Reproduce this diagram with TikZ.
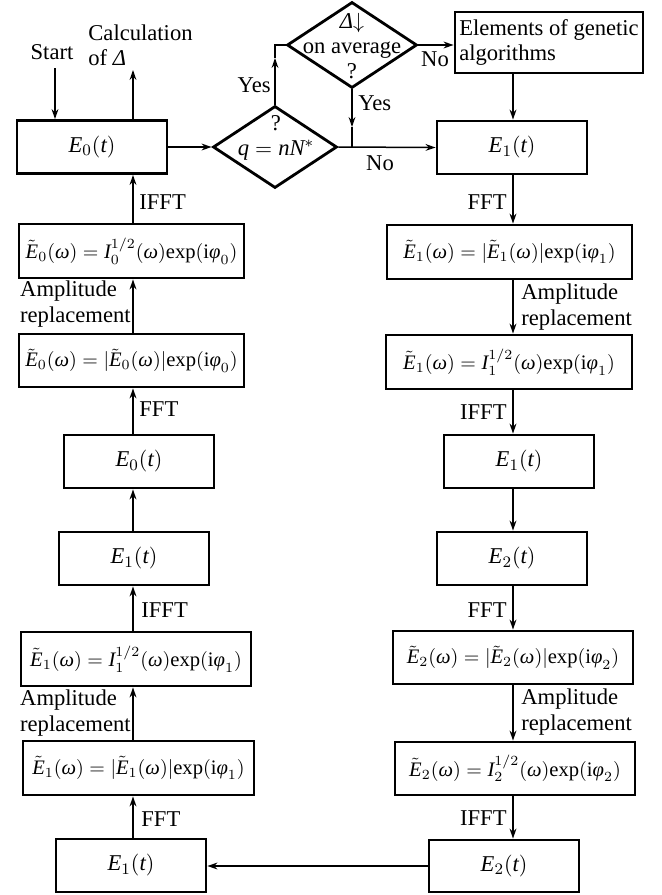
\documentclass[tikz,border=0pt]{standalone}
\usepackage{amsmath}
\usepackage{fontspec}
\setmainfont{Liberation Serif}
\usetikzlibrary{shapes.geometric,arrows.meta}
\newcommand{\fsz}{\fontsize{11.3pt}{12.7pt}\selectfont}
\newcommand{\msz}{\fontsize{10.3pt}{12.5pt}\selectfont}
\newcommand{\ex}{\mathrm{exp}}
\newcommand{\iE}{\textit{E}}
\newcommand{\iI}{\textit{I}}
\newcommand{\tE}{\tilde{\textit{E}}}
\newcommand{\myom}{\textit{ω}}
\newcommand{\myph}{\textit{φ}}
\newcommand{\myt}{\textit{t}}
\begin{document}
\begin{tikzpicture}[x=0.5pt,y=-0.5pt,
  every node/.style={font=\fsz},
  >={Stealth[length=5pt,width=3.4pt]},
  line/.style={line width=0.75pt},
  conn/.style={->,line width=0.75pt},
  box/.style={draw,rectangle,line width=1.4pt,inner sep=0pt,minimum height=26.5pt},
  mbox/.style={box,font=\msz},
  dia/.style={draw,diamond,line width=1.4pt,inner sep=0pt},
  lab/.style={inner sep=0pt}]
\useasboundingbox (0,0) rectangle (662,895);
\coordinate (xL) at (133,0);
\coordinate (xR) at (513,0);
% left column
\node[box,minimum width=75pt] (L1) at (92,147) {$\iE_0(\myt)$};
\node[mbox,minimum width=112.5pt,minimum height=27pt] (L2) at (131.5,251) {$\tE_0(\myom) = \iI_0^{1/2}(\myom)\ex(\mathrm{i}\myph_0)$};
\node[mbox,minimum width=112.5pt] (L3) at (131.5,360.5) {$\tE_0(\myom) = |\tE_0(\myom)|\ex(\mathrm{i}\myph_0)$};
\node[box,minimum width=75pt] (L4) at (139,461.5) {$\iE_0(\myt)$};
\node[box,minimum width=75pt] (L5) at (134,558.5) {$\iE_1(\myt)$};
\node[mbox,minimum width=115pt,minimum height=27pt] (L6) at (136,659) {$\tE_1(\myom) = \iI_1^{1/2}(\myom)\ex(\mathrm{i}\myph_1)$};
\node[mbox,minimum width=115.5pt,minimum height=27pt] (L7) at (138.5,768) {$\tE_1(\myom) = |\tE_1(\myom)|\ex(\mathrm{i}\myph_1)$};
\node[box,minimum width=75pt] (L8) at (131,865.5) {$\iE_1(\myt)$};
% right column
\node[box,minimum width=94pt,minimum height=30.5pt,align=left] (GA) at (549,42.5) {Elements of genetic\\algorithms};
\node[box,minimum width=75pt] (R1) at (512,147.5) {$\iE_1(\myt)$};
\node[mbox,minimum width=122.5pt,minimum height=27pt] (R2) at (509.5,252) {$\tE_1(\myom) = |\tE_1(\myom)|\ex(\mathrm{i}\myph_1)$};
\node[mbox,minimum width=123pt,minimum height=27pt] (R3) at (509,362) {$\tE_1(\myom) = \iI_1^{1/2}(\myom)\ex(\mathrm{i}\myph_1)$};
\node[box,minimum width=75pt] (R4) at (519,461.5) {$\iE_1(\myt)$};
\node[box,minimum width=75pt] (R5) at (512,558.5) {$\iE_2(\myt)$};
\node[mbox,minimum width=120pt] (R6) at (513,657.5) {$\tE_2(\myom) = |\tE_2(\myom)|\ex(\mathrm{i}\myph_2)$};
\node[mbox,minimum width=120pt] (R7) at (515,768.5) {$\tE_2(\myom) = \iI_2^{1/2}(\myom)\ex(\mathrm{i}\myph_2)$};
\node[box,minimum width=75pt,minimum height=26pt] (R8) at (504,866) {$\iE_2(\myt)$};
% diamonds
\node[dia,minimum width=62pt,minimum height=41pt] (D1) at (275,147) {};
\node[lab,align=center] (D1t) at (276,138) {?\\$\textit{q} = \textit{nN}^*$};
\node[dia,minimum width=65pt,minimum height=43pt] (D2) at (352,45) {};
\node[lab,align=center] (D2t) at (352,46) {\textit{Δ}$\downarrow$\\on average\\?};
% start / calculation
\node[lab] (start) at (52,52) {Start};
\node[lab,align=left,anchor=west] (calc) at (88,45) {Calculation\\of \textit{Δ}};
\coordinate (st) at (55,68);
\coordinate (ca) at (133,70);
\draw[conn] (st) -- (st |- L1.north);
\draw[conn] (L1.north -| ca) -- (ca);
% decision connectors
\draw[conn] (L1.east) -- (D1.west);
\draw[conn] (D1.east) -- (R1.west);
\coordinate (yu) at (275,58);
\draw[conn] (D1.north) -- (yu);
\draw[line] (yu) -- (yu |- D2.west) -- (D2.west);
\draw[conn] (D2.east) -- (D2.east -| GA.west);
\coordinate (yd) at (352,127);
\draw[conn] (D2.south) -- (yd);
\draw[line] (yd) -- (yd |- D1.east);
\node[lab,anchor=east] (yes1) at (271,85) {Yes};
\node[lab] (no1) at (435,59) {No};
\node[lab,anchor=west] (yes2) at (358,103) {Yes};
\node[lab] (no2) at (380,163) {No};
% right chain
\draw[conn] (GA.south -| xR) -- (R1.north -| xR);
\draw[conn] (R1.south -| xR) -- (R2.north -| xR);
\draw[conn] (R2.south -| xR) -- (R3.north -| xR);
\draw[conn] (R3.south -| xR) -- (R4.north -| xR);
\draw[conn] (R4.south -| xR) -- (R5.north -| xR);
\draw[conn] (R5.south -| xR) -- (R6.north -| xR);
\draw[conn] (R6.south -| xR) -- (R7.north -| xR);
\draw[conn] (R7.south -| xR) -- (R8.north -| xR);
\draw[conn] (R8.west) -- (R8.west -| L8.east);
% left chain
\draw[conn] (L8.north -| xL) -- (L7.south -| xL);
\draw[conn] (L7.north -| xL) -- (L6.south -| xL);
\draw[conn] (L6.north -| xL) -- (L5.south -| xL);
\draw[conn] (L5.north -| xL) -- (L4.south -| xL);
\draw[conn] (L4.north -| xL) -- (L3.south -| xL);
\draw[conn] (L3.north -| xL) -- (L2.south -| xL);
\draw[conn] (L2.north -| xL) -- (L1.south -| xL);
% left labels
\node[lab,anchor=west] (lIFFT1) at (139,202) {IFFT};
\node[lab,anchor=east,align=left] (lAR1) at (131,304) {Amplitude\\replacement};
\node[lab,anchor=west] (lFFT1) at (139,409) {FFT};
\node[lab,anchor=west] (lIFFT2) at (141,610) {IFFT};
\node[lab,anchor=east,align=left] (lAR2) at (131,713) {Amplitude\\replacement};
\node[lab,anchor=west] (lFFT2) at (141,819) {FFT};
% right labels
\node[lab,anchor=east] (rFFT1) at (507,202) {FFT};
\node[lab,anchor=west,align=left] (rAR1) at (521,307) {Amplitude\\replacement};
\node[lab,anchor=east] (rIFFT1) at (507,412) {IFFT};
\node[lab,anchor=east] (rFFT2) at (507,610) {FFT};
\node[lab,anchor=west,align=left] (rAR2) at (521,712) {Amplitude\\replacement};
\node[lab,anchor=east] (rIFFT2) at (507,818) {IFFT};
\end{tikzpicture}
\end{document}
